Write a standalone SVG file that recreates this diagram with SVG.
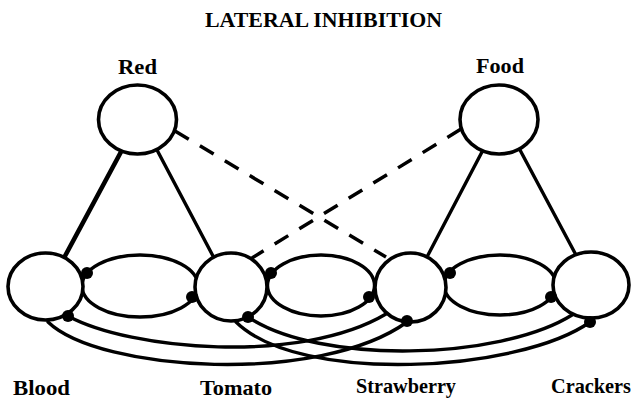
<svg xmlns="http://www.w3.org/2000/svg" width="636" height="402" viewBox="0 0 636 402">
<style>
.ln{fill:none;stroke:#000;stroke-width:3.4;stroke-linecap:round}
.dash{fill:none;stroke:#000;stroke-width:3.5;stroke-dasharray:16 13}
.node{fill:#fff;stroke:#000;stroke-width:3.6}
.dot{fill:#000}
.lbl{font-family:"Liberation Serif","Times New Roman",serif;font-weight:bold;font-size:21px;fill:#000}
.title{font-family:"Liberation Serif","Times New Roman",serif;font-weight:bold;font-size:22px;fill:#000}
</style>
<rect width="636" height="402" fill="#fff"/>
<text class="title" x="205" y="27" textLength="237" lengthAdjust="spacingAndGlyphs">LATERAL INHIBITION</text>
<g id="connectors">
  <line class="ln" x1="122" y1="150" x2="65" y2="256" style="stroke-width:4.6"/>
  <line class="ln" x1="157" y1="150" x2="213" y2="256"/>
  <line class="ln" x1="483" y1="150" x2="428" y2="255"/>
  <line class="ln" x1="520" y1="150" x2="576" y2="255"/>
  <line class="dash" x1="175" y1="131" x2="386" y2="257"/>
  <line class="dash" x1="461" y1="129" x2="252" y2="258"/>
  <ellipse class="ln" cx="140" cy="286" rx="58" ry="31"/>
  <ellipse class="ln" cx="321" cy="285.5" rx="53.5" ry="30.5"/>
  <ellipse class="ln" cx="500" cy="285" rx="56" ry="30"/>
  <path class="ln" d="M68,316 C130,350 300,365 386,314"/>
  <path class="ln" d="M48,322 C100,372 320,385 407,322"/>
  <path class="ln" d="M248,317 C320,365 500,360 572,315"/>
  <path class="ln" d="M236,322 C300,385 520,372 590,322"/>
</g>
<g id="node-red"><ellipse class="node" cx="137.5" cy="119.5" rx="39" ry="34.5"/><text class="lbl" x="118" y="74" textLength="39" lengthAdjust="spacingAndGlyphs">Red</text></g>
<g id="node-food"><ellipse class="node" cx="499" cy="119.5" rx="39" ry="34.5"/><text class="lbl" x="476" y="73" textLength="48" lengthAdjust="spacingAndGlyphs">Food</text></g>
<g id="node-blood"><ellipse class="node" cx="45.5" cy="286.5" rx="37.5" ry="33.5"/><text class="lbl" x="13" y="395" textLength="57" lengthAdjust="spacingAndGlyphs">Blood</text></g>
<g id="node-tomato"><ellipse class="node" cx="231" cy="287" rx="36" ry="34"/><text class="lbl" x="200" y="395" textLength="72" lengthAdjust="spacingAndGlyphs">Tomato</text></g>
<g id="node-strawberry"><ellipse class="node" cx="410.5" cy="287.5" rx="35.5" ry="34.5"/><text class="lbl" x="356" y="393" textLength="100" lengthAdjust="spacingAndGlyphs">Strawberry</text></g>
<g id="node-crackers"><ellipse class="node" cx="591" cy="285" rx="38" ry="33"/><text class="lbl" x="551" y="393" textLength="80" lengthAdjust="spacingAndGlyphs">Crackers</text></g>
<g id="dots">
  <circle class="dot" cx="87" cy="273" r="6"/>
  <circle class="dot" cx="192" cy="297" r="6"/>
  <circle class="dot" cx="271" cy="273" r="6"/>
  <circle class="dot" cx="369" cy="297" r="6"/>
  <circle class="dot" cx="450" cy="273" r="6"/>
  <circle class="dot" cx="551" cy="297" r="6"/>
  <circle class="dot" cx="68" cy="316" r="6"/>
  <circle class="dot" cx="248" cy="317" r="6"/>
  <circle class="dot" cx="407" cy="321" r="6"/>
  <circle class="dot" cx="590" cy="322" r="6"/>
</g>
</svg>
